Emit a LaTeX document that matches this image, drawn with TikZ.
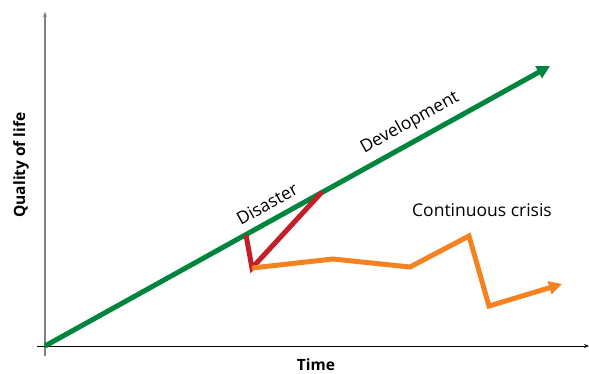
\documentclass[tikz,border=0pt]{standalone}
\usepackage{fontspec}
\setmainfont{Open Sans}
\usetikzlibrary{arrows.meta}
\definecolor{devgreen}{RGB}{0,133,62}
\definecolor{disred}{RGB}{196,30,38}
\definecolor{crisorange}{RGB}{245,130,32}
\definecolor{axisgray}{RGB}{128,128,128}
\tikzset{
  trend/.style={line width=5pt, line cap=butt, line join=miter},
  tip/.style={-{Triangle[length=13pt, width=13pt]}},
  label/.style={font=\fontsize{17.5}{20}\selectfont, inner sep=0pt},
  axislabel/.style={font=\bfseries\fontsize{15.5}{18}\selectfont, inner sep=0pt}
}
\begin{document}
\begin{tikzpicture}[x=1pt, y=-1pt]
	\useasboundingbox (0,0) rectangle (589,374);
	%Axes
	\coordinate (O) at (45,346);
	\coordinate (Ytop) at (45,12);
	\coordinate (Ybot) at (45,356);
	\coordinate (Xleft) at (37,346);
	\coordinate (Xright) at (589,346);
	\draw[axisgray, line width=1.2pt, -{Stealth[length=5pt, width=4pt]}] (Ybot) -- (Ytop);
	\draw[black, line width=1pt, -{Stealth[length=5pt, width=4pt]}] (Xleft) -- (Xright);
	\node[axislabel, rotate=90] (qol) at (21,165) {Quality of life};
	\node[axislabel] (time) at (316,365) {Time};
	
	%Development
	\coordinate (D1) at (246,235);
	\coordinate (D2) at (322,192);
	\coordinate (Dend) at (550,66);
	\draw[trend, devgreen, tip] (O) -- (Dend);
	
	%Disaster
	\coordinate (R1) at (252,268);
	\draw[trend, disred, line join=miter] (D1) -- (R1) -- (D2);
	
	%Continuous crisis
	\coordinate (C1) at (333,259);
	\coordinate (C2) at (410,267);
	\coordinate (C3) at (469,236);
	\coordinate (C4) at (489,306);
	\coordinate (Cend) at (562,284);
	\draw[trend, crisorange, tip] (R1) -- (C1) -- (C2) -- (C3) -- (C4) -- (Cend);
	
	\node[label, rotate=29] (dis) at (267,204) {Disaster};
	\node[label, rotate=29] (dev) at (410,123) {Development};
	\node[label] (cris) at (482,210) {Continuous crisis};
\end{tikzpicture}
\end{document}
